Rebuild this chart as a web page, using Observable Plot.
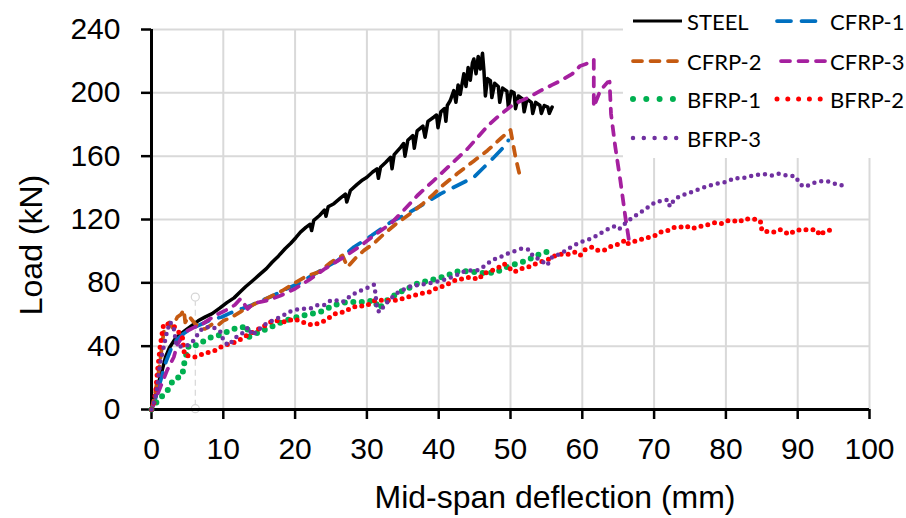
<!DOCTYPE html>
<html><head><meta charset="utf-8">
<script src="https://cdn.jsdelivr.net/npm/d3@7"></script>
<script src="https://cdn.jsdelivr.net/npm/@observablehq/plot@0.6"></script>
<style>
body{margin:0;background:#fff;}
#wrap{position:relative;width:906px;height:518px;overflow:hidden;}
#legend{position:absolute;left:623px;top:0;width:283px;height:158px;background:#fff;}
</style></head><body><div id="wrap"></div>
<script>
const xTicks = [0,10,20,30,40,50,60,70,80,90,100];
const yTicks = [0,40,80,120,160,200,240];
const xTitle = "Mid-span deflection (mm)";
const yTitle = "Load (kN)";
const seriesNames = ["STEEL","CFRP-1","CFRP-2","CFRP-3","BFRP-1","BFRP-2","BFRP-3"];
const seriesColors = ["#000000","#0070C0","#C55A11","#A5209F","#00B050","#FF0000","#7030A0"];

const steel = [[0,0],[0.3,5],[0.7,12],[1.1,19],[1.5,25],[1.95,33],[2.5,39],[3.2,44],[4,47.5],[4.7,50],[5.6,53],[6.5,56],[7.5,58.5],[8.45,60.5],[9.5,64],[10.5,67.5],[11.5,70.5],[12.3,74],[13.1,77.5],[14,81],[15,85],[16,89],[16.8,93],[17.7,97],[18.6,101.5],[19.4,105],[20.1,108.5],[20.75,112],[21.5,115],[22.1,117],[22.3,113],[22.6,119.4],[23.4,122.5],[24.1,126],[24.3,122],[24.6,128],[25.4,130],[26.3,133.5],[27,136],[27.2,131],[27.7,138.3],[28.6,142],[29.4,145],[30,146.7],[30.8,150],[31.4,152],[31.6,146],[31.9,153],[32.6,156],[33.3,159.3],[33.5,152],[33.8,161],[34.7,165.6],[35.1,168],[35.3,160],[35.7,170],[36.4,173],[36.6,165],[37,176],[37.8,179],[38.1,172],[38.5,182],[39.3,184.6],[39.7,186],[39.9,178],[40.3,188],[40.8,190],[41,182],[41.2,192],[41.6,195],[42.1,201.4],[42.4,194],[42.7,205],[43.0,199],[43.5,212],[43.8,204],[44.1,216],[44.4,208],[44.7,219],[44.9,221.4],[45.2,212],[45.5,223],[45.8,215],[46.1,225],[46.3,214],[46.5,198],[46.8,209],[47.2,207.7],[47.4,197],[47.8,206],[48.3,204],[48.5,194],[48.9,203],[49.5,201],[49.7,191],[50.1,201],[50.5,200],[50.7,190],[51.1,198],[51.7,196],[51.9,188],[52.3,196],[52.9,194],[53.1,187],[53.5,194],[54.1,192],[54.3,187],[54.7,192],[55.2,191],[55.4,187],[55.8,191]];

const cfrp1 = [[0,0],[0.5,6],[1,14],[1.5,22],[2,30],[2.7,38],[3.5,44],[4.5,48],[5.5,51],[7,54],[8.5,57],[9.8,58.4],[11,61],[12.6,63.7],[14,66],[15.4,69],[17,72],[18.7,76],[20.5,79.6],[22.5,85],[24,89],[25.9,94],[28.2,102.6],[30.7,110],[33.3,118.3],[35.6,123.6],[38,130],[40.25,136.2],[42.6,141.5],[44.9,146.7],[46.3,153],[47.7,159.3],[48.6,163.6],[49.5,167.8],[49.7,170]];

const cfrp2 = [[0,0],[0.4,8],[0.8,18],[1.2,30],[1.5,42],[1.8,52],[2.5,55],[2.9,52],[3.6,58.4],[4.1,60],[4.5,63],[4.7,55],[5.2,59],[6.1,54],[7,51],[7.5,51],[8.5,54],[9.2,53],[10,56],[11.2,58.4],[12.5,62],[14.5,67],[16,70],[18.2,75],[20,80],[21.5,84],[23.3,86.8],[25,93],[26.6,97.3],[27.3,90],[28.5,96],[29.6,100.5],[31,105],[32.4,111],[34,117],[36,123.6],[37.8,130],[39.3,136],[40.25,140.4],[42.6,149],[44.9,157],[46.8,163.6],[48.6,171],[50,176.6],[50.7,159.3],[51.4,145.7]];

const cfrp3 = [[0,0],[0.7,8],[1.4,16],[2.2,25],[3.1,33],[3.6,41],[4.7,49],[6,52],[7.1,54],[8.9,59.5],[10.5,63],[11.6,66],[12.4,70],[13.4,63.5],[14.2,67],[15.2,68],[16.3,69],[18,72],[20,76.3],[22,82],[24.2,89],[26.8,96.3],[29,103],[31,110],[33.3,117.3],[35.1,125.7],[37,135],[39.3,144.6],[41.5,154],[44,164.6],[46.8,179],[48.5,186],[50.5,193],[52.5,197],[54.2,201.4],[55.8,205],[57,207.7],[58.6,212],[59.7,217],[60.4,218],[61.4,220.3],[61.6,221],[61.6,191],[62.5,201.4],[63.5,206.6],[63.8,207],[64,186.7],[64.6,165.6],[65.3,144.6],[66,121.5],[66.5,106.8]];

const bfrp1 = [[0,0],[0.4,3],[1,6],[1.8,10],[2.4,13],[3,18.5],[3.6,20],[4.3,21.6],[4.5,28],[4.8,34],[5.2,40.6],[6.4,40.6],[7.8,44.8],[9.4,47],[10.5,49],[11.5,51],[12.2,51],[13.3,53],[13.5,45.8],[14.2,47],[15,49],[16.1,51],[17.5,54],[18.7,56.3],[20,58],[21.2,59.5],[22.4,60.5],[23.5,61.6],[24.9,64.7],[26.1,66.9],[27.3,67.9],[28.5,68],[29.6,67.9],[31,69],[31.7,63.7],[32.5,68],[33.8,72],[35,75],[36,77],[37,79.5],[38.8,81.6],[40,83],[41.2,84.7],[43,87.9],[44.2,87],[45.3,86.8],[46.5,86],[48.1,86.8],[49,89],[50,91],[51.2,92.5],[52.3,94.2],[53.3,96.5],[54.2,98.4],[55.8,100.5]];

const bfrp2 = [[0,0],[0.3,3],[0.6,12],[0.8,22.7],[1,31],[1.2,39.5],[1.4,45.8],[1.7,54],[2.4,54],[3.3,52],[4.3,45.8],[4.6,34.2],[6.1,33.2],[7.3,35.3],[8.9,37.4],[10.1,40.6],[11.2,41.6],[12.3,44],[13.3,46.9],[14.4,49.5],[15.4,52],[17,56.3],[18.7,55.3],[19.8,57.4],[21,55.3],[22.4,53.2],[23.8,55.3],[24.9,58.4],[25.6,60.5],[26.8,61.6],[28,64.7],[30,65.8],[31.2,69],[32.4,69],[34.2,69],[35.6,71],[37.5,73.2],[38.6,74],[39.6,76.3],[40.9,78.4],[42.3,81.6],[43.3,82.6],[44.4,83.6],[45.6,82.2],[46.2,85.8],[48.1,88.9],[49.1,92],[50.5,86.8],[51.4,88.9],[52.5,90],[53.5,92],[54.4,93.5],[55.5,95.2],[56.5,98],[57.4,98],[58.2,98],[59,99.4],[59.7,97.3],[60.4,101],[61.4,102.6],[62.2,100.5],[63,100.5],[64,103],[64.9,104.3],[65.8,106.4],[66,104.3],[66.9,105.7],[67.9,107.2],[68.8,108.2],[70.2,110],[71.1,112.5],[71.9,113],[72.8,115],[73.5,115],[74.4,116],[75.2,114.2],[76.1,115.2],[76.9,116.2],[77.8,117],[78.5,118],[79.4,117.5],[80.3,119.2],[81,119.4],[81.8,118.3],[82.6,120.5],[83.4,120.2],[84.2,120.2],[84.8,119],[85,113.5],[85.1,112.5],[86,112.5],[86.8,112],[87.6,113.5],[88.8,110.6],[89.6,113],[90.4,113.5],[91.2,113.5],[92,113.5],[92.6,113.5],[93.1,110],[93.6,112],[94.3,113],[95.1,114]];

const bfrp3 = [[0,0],[0.3,4],[0.55,8],[0.8,14.3],[1,22],[1.2,29],[1.5,35.3],[1.9,43.7],[2.2,50],[2.6,55.3],[3.1,51],[3.3,47],[3.2,43.7],[3.8,39.5],[5,40.6],[5.9,43.7],[6.8,50],[7.7,52],[8.6,52],[9.6,49],[10.1,42.6],[10.8,40.6],[11.5,44.8],[12.6,48],[13.5,52],[14,46.9],[14.8,50],[15.6,53.2],[16.3,55],[17.5,57.4],[18.6,60],[19.6,62.6],[21,63.7],[22.1,63.7],[23.1,65.8],[24,65.8],[25,69],[25.6,69],[26.6,67.9],[27.5,71],[28.6,74.2],[29.8,76.3],[31,78.8],[31.2,73.2],[31.4,62.6],[31.9,61.6],[32.4,65.8],[33.3,70],[34.4,74.2],[35.4,76.3],[36.3,78.4],[37.2,78.4],[38.3,79.5],[39.6,80.5],[41.2,82.6],[42.3,84.5],[43.3,86.8],[44.6,87.9],[45.5,88],[46.5,91],[47.4,94.2],[48.6,96.3],[49.6,98.4],[50.4,99.8],[51.5,101.5],[52.6,100.9],[53.2,96.3],[54,95],[55.1,91],[55.8,96.3],[57,98.4],[58,101.5],[59,104],[59.7,105.7],[60.9,107.4],[61.8,109.3],[62.9,112.3],[63.7,114.2],[64.4,115.6],[65.1,113.7],[66,117.7],[66.8,120.5],[67.8,123.6],[68.7,126.3],[69.6,129.3],[70.4,131.6],[71.2,131.6],[71.9,132.5],[72.2,128.2],[72.8,132.5],[73.5,134.5],[74.5,136.2],[75.4,137.7],[76.4,139.4],[77.3,140.8],[78.3,142.1],[79.3,143.2],[80.2,143.8],[81.2,146.3],[82,145.9],[82.9,146.7],[84.1,148.2],[84.9,148.4],[85.6,148.6],[86.4,147.8],[87.4,148.9],[88.5,147.8],[89.7,147.2],[90.1,144],[90.7,140.8],[91.5,141.5],[92.5,143.6],[93.4,144.2],[94.3,144],[95.2,142.6],[96.1,141.7],[96.5,138.3]];

// artifact handle line visible in the source image
const handleX = [6.1];
const handleY = [0.5, 71];

const X = d => d[0], Y = d => d[1];
const styles = [
  {strokeWidth:3.5},
  {strokeWidth:3.75, strokeDasharray:"14,10.5", strokeLinecap:"round"},
  {strokeWidth:3.75, strokeDasharray:"9,8.5", strokeLinecap:"round"},
  {strokeWidth:3.75, strokeDasharray:"9,8.5", strokeLinecap:"round"},
  {strokeWidth:6, strokeDasharray:"0,8.5", strokeLinecap:"round"},
  {strokeWidth:5, strokeDasharray:"0,7", strokeLinecap:"round"},
  {strokeWidth:4.5, strokeDasharray:"0,7", strokeLinecap:"round"}
];
const data = [steel, cfrp1, cfrp2, cfrp3, bfrp1, bfrp2, bfrp3];

const chart = Plot.plot({
  width: 906, height: 518,
  marginLeft: 151, marginRight: 37, marginTop: 29, marginBottom: 109,
  style: {fontFamily: "'Liberation Sans', Arial, sans-serif", fontSize: "30px", color: "#000", background: "#fff", overflow: "visible"},
  x: {domain: [0, 100]},
  y: {domain: [0, 240]},
  marks: [
    Plot.gridX(xTicks.slice(1), {stroke: "#d9d9d9", strokeOpacity: 1, strokeWidth: 2}),
    Plot.gridY(yTicks.slice(1), {stroke: "#d9d9d9", strokeOpacity: 1, strokeWidth: 2}),
    Plot.ruleX(handleX, {y1: 2, y2: 68, stroke: "#d6d6d6", strokeWidth: 1.2, strokeDasharray: "6,4"}),
    Plot.dot(handleY, {x: () => handleX[0], y: d => d, r: 4, stroke: "#d6d6d6", strokeWidth: 1.2, fill: "#fff"}),
    Plot.ruleX([0], {stroke: "#000", strokeWidth: 3}),
    Plot.ruleY([0], {stroke: "#000", strokeWidth: 3}),
    Plot.axisX(xTicks, {tickSize: 10, tickPadding: 18, fontSize: 30, strokeWidth: 2.5, label: null}),
    Plot.axisY(yTicks, {tickSize: 10, tickPadding: 21, fontSize: 30, strokeWidth: 2.5, label: null}),
    ...data.map((d, i) => Plot.line(d, {x: X, y: Y, stroke: seriesColors[i], strokeLinejoin: "round", ...styles[i]}))
  ]
});

const wrap = document.getElementById("wrap");
wrap.appendChild(chart);
const svg = d3.select(chart);
svg.append("text").attr("transform", "translate(31,245) rotate(-90)")
  .attr("text-anchor", "middle").attr("dominant-baseline", "central")
  .style("font-size", "32px").attr("fill", "#000").text(yTitle);
svg.append("text").attr("x", 555).attr("y", 497)
  .attr("text-anchor", "middle").attr("dominant-baseline", "central")
  .style("font-size", "32px").attr("fill", "#000").text(xTitle);

// legend
const leg = document.createElement("div");
leg.id = "legend";
wrap.appendChild(leg);
const ls = d3.select(leg).append("svg").attr("width", 283).attr("height", 158);
const legPos = [[10,21],[154,21],[10,61],[158,61],[10,99],[154,99],[10,138]];
const swLen = [49,45,49,45,49,48,49];
const legDash = [null,"14,10.5","9,8.5","9,8.5","0,13.3","0,10.8","0,10.8"];
seriesNames.forEach((n, i) => {
  const [lx, ly] = legPos[i];
  const st = styles[i];
  const ln = ls.append("line").attr("x1", lx).attr("x2", lx + swLen[i])
    .attr("y1", ly).attr("y2", ly).attr("stroke", seriesColors[i])
    .attr("stroke-width", i === 0 ? 3 : st.strokeWidth).attr("stroke-linecap", st.strokeLinecap || "butt");
  if (legDash[i]) ln.attr("stroke-dasharray", legDash[i]);
  ls.append("text").attr("x", i % 2 === 1 && i < 6 ? 207 : 64).attr("y", ly)
    .attr("dominant-baseline", "central").attr("fill", "#000")
    .style("font-family", "Lato, 'Open Sans', sans-serif").style("font-size", "22px").text(n);
});
</script></body></html>
